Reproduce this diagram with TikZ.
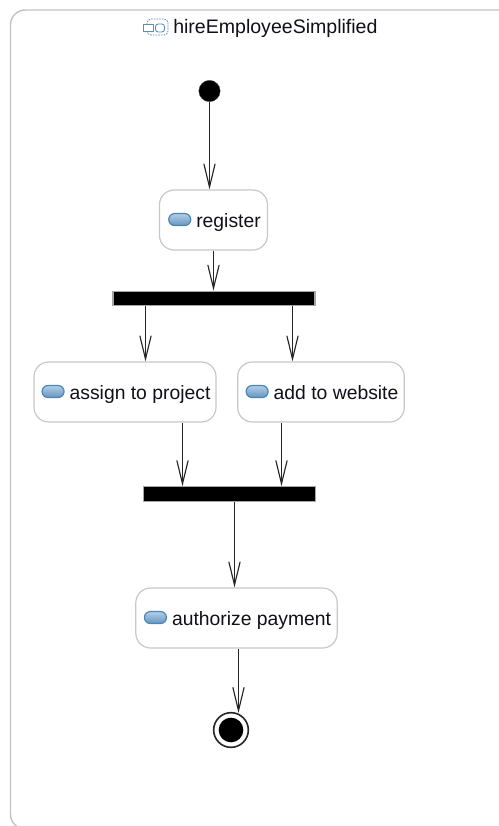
\documentclass[tikz,border=0pt]{standalone}
\usepackage{fontspec}
\setmainfont{Liberation Sans}
\usetikzlibrary{arrows.meta}
\definecolor{frameC}{HTML}{C4C4C4}
\definecolor{boxC}{HTML}{C8C8C8}
\definecolor{pillC}{HTML}{4A85B8}
\definecolor{pillTop}{HTML}{B4CEE4}
\definecolor{pillBot}{HTML}{6496C2}
\definecolor{textC}{HTML}{10101C}
\definecolor{titleIconC}{HTML}{5C8DBD}
\newcommand{\pillicon}{\rule[-3.5pt]{0pt}{17.5pt}\hspace*{1.5pt}\begin{tikzpicture}[baseline=-5.6pt]
  \path[use as bounding box] (0,-6.5) rectangle (23,6.5);
  \draw[pillC,line width=0.9pt,rounded corners=4.5pt,top color=pillTop,bottom color=pillBot] (0.5,-6) rectangle (22.5,6);
\end{tikzpicture}\hspace{3.8pt}}
\tikzset{
  x=0.75pt,y=-0.75pt,
  frameline/.style={draw=frameC,line width=1.1pt,rounded corners=11pt},
  actbox/.style={draw=boxC,line width=0.9pt,fill=white,rounded corners=11pt,minimum height=45pt,inner sep=0pt,text=textC,font=\fontsize{14.5pt}{17pt}\selectfont},
  bar/.style={draw=gray!70,line width=0.8pt,fill=black,inner sep=0pt,minimum height=11pt},
  startdot/.style={circle,fill=black,draw=black!70,line width=0.3pt,minimum size=16pt,inner sep=0pt},
  flow/.style={draw=black!85,line width=1.1pt,-{Straight Barb[length=17.5pt,width=8.5pt,line width=0.85pt]}},
}
\begin{document}
\begin{tikzpicture}
\useasboundingbox (0,0) rectangle (499,826);
\fill[white] (0,0) rectangle (499,826);
\draw[frameline] (520,10) -- (10.5,10) -- (10.5,829) -- (40,829);
% title
\node[anchor=west,inner sep=0pt,text=textC,font=\fontsize{14.66pt}{17pt}\selectfont] (title) at (173,28) {hireEmployeeSimplified};
\draw[titleIconC,line width=0.6pt,dash pattern=on 1.2pt off 0.8pt,rounded corners=3pt] (147,19) rectangle (168,35);
\draw[titleIconC,line width=0.7pt,fill=white] (143.5,24.5) rectangle (153,31.5);
\draw[titleIconC,line width=0.7pt,rounded corners=2pt] (155.5,24) rectangle (164.5,32);
% nodes
\node[startdot] (start) at (209.5,91) {};
\node[actbox,minimum width=81pt] (register) at (213.5,220) {\pillicon register};
\node[bar,minimum width=151.5pt] (fork) at (214,298.5) {};
\node[actbox,minimum width=136.5pt] (assign) at (125,392) {\pillicon assign to project};
\node[actbox,minimum width=125pt] (add) at (321,392) {\pillicon add to website};
\node[bar,minimum width=128.5pt] (join) at (229.5,494) {};
\node[actbox,minimum width=151pt] (auth) at (236.5,618) {\pillicon authorize payment};
\node[circle,draw=black!85,line width=1.2pt,minimum size=26pt,inner sep=0pt,fill=white] (finish) at (231,730) {};
\node[circle,fill=black,minimum size=18.5pt,inner sep=0pt] (finishdot) at (231,730) {};
% connector columns
\coordinate (c1) at (145.5,0);
\coordinate (c2) at (292.5,0);
\coordinate (c3) at (182.5,0);
\coordinate (c4) at (281.5,0);
\coordinate (c5) at (234.5,0);
\coordinate (c6) at (238.5,713);
% connectors
\draw[flow] (start.south) -- (register.north -| start);
\draw[flow] (register.south) -- (fork.north -| register);
\draw[flow] (fork.south -| c1) -- (assign.north -| c1);
\draw[flow] (fork.south -| c2) -- (add.north -| c2);
\draw[flow] (assign.south -| c3) -- (join.north -| c3);
\draw[flow] (add.south -| c4) -- (join.north -| c4);
\draw[flow] (join.south -| c5) -- (auth.north -| c5);
\draw[flow] (auth.south -| c6) -- (c6);
\end{tikzpicture}
\end{document}
